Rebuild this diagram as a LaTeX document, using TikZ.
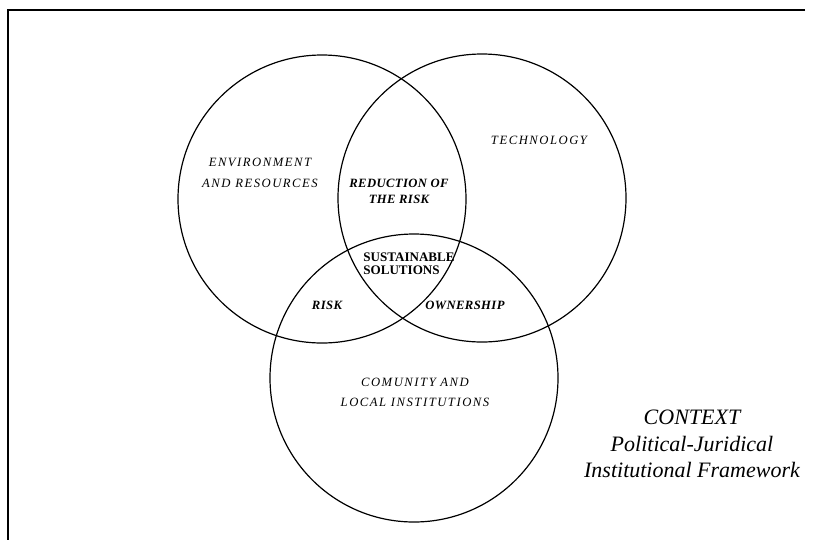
\documentclass[tikz,border=0pt]{standalone}
\usepackage{fontspec}
\setmainfont{Liberation Serif}
\usetikzlibrary{positioning}

\begin{document}
\begin{tikzpicture}[x=0.75pt, y=-0.75pt,
    area/.style={circle, draw=black, line width=0.9pt, minimum size=216pt, inner sep=0pt},
    zone/.style={align=center, inner sep=0pt,
                 font=\fontsize{9.5}{#1}\selectfont\itshape\addfontfeatures{LetterSpace=12}},
    overlap/.style={align=center, inner sep=0pt,
                 font=\fontsize{9.5}{#1}\selectfont\bfseries\itshape\addfontfeatures{LetterSpace=3}},
    core/.style={align=left, inner sep=0pt, font=\fontsize{9.8}{10}\selectfont\bfseries},
    context/.style={align=center, inner sep=0pt, font=\fontsize{16.5}{20}\selectfont\itshape},
    frame/.style={line width=1.4pt}
]
\useasboundingbox (0,0) rectangle (818,540);

% Frame (top and left sides only)
\coordinate (tl) at (8,10);
\coordinate (tr) at (805,10);
\coordinate (bl) at (8,540);
\draw[frame] (tr) -- (tl) -- (bl);

% The three circles
\node[area] (env) at (322,199) {};
\node[area] (tech) at (482,198) {};
\node[area] (comm) at (414,378) {};

% Circle labels
\node[zone=16pt] (envtxt) at (260,173) {ENVIRONMENT\\AND RESOURCES};
\node[zone=12pt] (techtxt) at (539,140) {TECHNOLOGY};
\node[zone=15pt] (commtxt) at (415,392) {COMUNITY AND\\LOCAL INSTITUTIONS};

% Overlap labels
\node[overlap=12pt] (reduce) at (399,191) {REDUCTION OF\\THE RISK};
\node[overlap=12pt] (risk) at (327,305) {RISK};
\node[overlap=12pt] (owner) at (465,305) {OWNERSHIP};
\node[core] (sust) at (409,264) {SUSTAINABLE\\SOLUTIONS};

% Context note
\node[context] (ctx) at (692,444) {CONTEXT\\Political-Juridical\\Institutional Framework};

\end{tikzpicture}
\end{document}
